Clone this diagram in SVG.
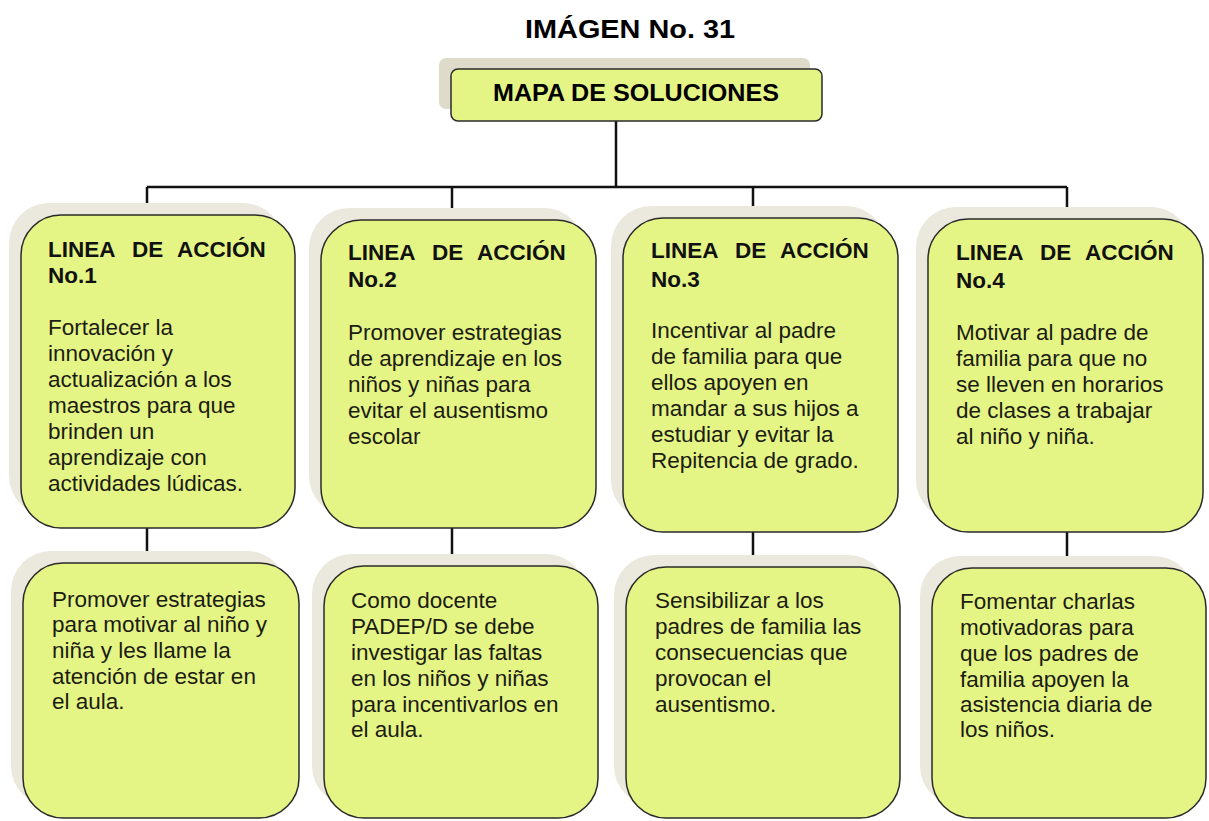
<svg xmlns="http://www.w3.org/2000/svg" width="1209" height="821" viewBox="0 0 1209 821">
<style>
.sh{fill:#ebe8dd}
.bx{fill:#e4f585;stroke:#2a2a2a;stroke-width:1.5}
.t{font-family:"Liberation Sans",Arial,sans-serif;font-size:22.5px;fill:#1c1c12}
.h{font-family:"Liberation Sans",Arial,sans-serif;font-size:22.5px;font-weight:bold;fill:#111}
.c{fill:none;stroke:#111;stroke-width:2.5}
</style>
<rect width="1209" height="821" fill="#fff"/>
<text x="630" y="38" text-anchor="middle" font-family="Liberation Sans, Arial, sans-serif" font-weight="bold" font-size="26" textLength="210" lengthAdjust="spacingAndGlyphs" fill="#000">IMÁGEN No. 31</text>

<g id="connectors">
<path class="c" d="M616 121V187M147 187H1067M147 187V215M452 187V220M753 187V218M1067 187V219"/>
<path class="c" d="M147 528V563M452 528V566M753 532V567M1067 532V568"/>
</g>

<g id="root">
<rect x="439" y="58" width="371" height="51" rx="7" fill="#dfdbca"/>
<rect x="451" y="69" width="371" height="52" rx="7" class="bx"/>
<text x="493" y="101" font-family="Liberation Sans, Arial, sans-serif" font-weight="bold" font-size="23" textLength="286" lengthAdjust="spacingAndGlyphs" fill="#000">MAPA DE SOLUCIONES</text>
</g>

<g id="n1">
<rect x="9" y="203" width="274" height="313" rx="40" class="sh"/>
<rect x="21" y="215" width="274" height="313" rx="40" class="bx"/>
<text class="h" y="257"><tspan x="48">LINEA</tspan><tspan x="132">DE</tspan><tspan x="177">ACCIÓN</tspan></text>
<text class="h" x="48" y="283">No.1</text>
<text class="t"><tspan x="48" y="335">Fortalecer la</tspan><tspan x="48" y="361">innovación y</tspan><tspan x="48" y="387">actualización a los</tspan><tspan x="48" y="413">maestros para que</tspan><tspan x="48" y="439">brinden un</tspan><tspan x="48" y="465">aprendizaje con</tspan><tspan x="48" y="491">actividades lúdicas.</tspan></text>
</g>

<g id="n2">
<rect x="309" y="208" width="275" height="308" rx="40" class="sh"/>
<rect x="321" y="220" width="275" height="308" rx="40" class="bx"/>
<text class="h" y="260"><tspan x="348">LINEA</tspan><tspan x="432">DE</tspan><tspan x="477">ACCIÓN</tspan></text>
<text class="h" x="348" y="287">No.2</text>
<text class="t"><tspan x="348" y="340">Promover estrategias</tspan><tspan x="348" y="366">de aprendizaje en los</tspan><tspan x="348" y="392">niños y niñas para</tspan><tspan x="348" y="418">evitar el ausentismo</tspan><tspan x="348" y="444">escolar</tspan></text>
</g>

<g id="n3">
<rect x="611" y="206" width="275" height="314" rx="40" class="sh"/>
<rect x="623" y="218" width="275" height="314" rx="40" class="bx"/>
<text class="h" y="258"><tspan x="651">LINEA</tspan><tspan x="735">DE</tspan><tspan x="780">ACCIÓN</tspan></text>
<text class="h" x="651" y="287">No.3</text>
<text class="t"><tspan x="651" y="338">Incentivar al padre</tspan><tspan x="651" y="364">de familia para que</tspan><tspan x="651" y="390">ellos apoyen en</tspan><tspan x="651" y="416">mandar a sus hijos a</tspan><tspan x="651" y="442">estudiar y evitar la</tspan><tspan x="651" y="468">Repitencia de grado.</tspan></text>
</g>

<g id="n4">
<rect x="916" y="207" width="275" height="313" rx="40" class="sh"/>
<rect x="928" y="219" width="275" height="313" rx="40" class="bx"/>
<text class="h" y="260"><tspan x="956">LINEA</tspan><tspan x="1040">DE</tspan><tspan x="1085">ACCIÓN</tspan></text>
<text class="h" x="956" y="288">No.4</text>
<text class="t"><tspan x="956" y="340">Motivar al padre de</tspan><tspan x="956" y="366">familia para que no</tspan><tspan x="956" y="392">se lleven en horarios</tspan><tspan x="956" y="418">de clases a trabajar</tspan><tspan x="956" y="444">al niño y niña.</tspan></text>
</g>

<g id="n5">
<rect x="11" y="551" width="276" height="255" rx="40" class="sh"/>
<rect x="23" y="563" width="276" height="255" rx="40" class="bx"/>
<text class="t"><tspan x="52" y="607">Promover estrategias</tspan><tspan x="52" y="632">para motivar al niño y</tspan><tspan x="52" y="658">niña y les llame la</tspan><tspan x="52" y="684">atención de estar en</tspan><tspan x="52" y="709">el aula.</tspan></text>
</g>

<g id="n6">
<rect x="312" y="554" width="274" height="252" rx="40" class="sh"/>
<rect x="324" y="566" width="274" height="252" rx="40" class="bx"/>
<text class="t"><tspan x="351" y="608">Como docente</tspan><tspan x="351" y="634">PADEP/D se debe</tspan><tspan x="351" y="660">investigar las faltas</tspan><tspan x="351" y="686">en los niños y niñas</tspan><tspan x="351" y="712">para incentivarlos en</tspan><tspan x="351" y="737">el aula.</tspan></text>
</g>

<g id="n7">
<rect x="614" y="555" width="274" height="251" rx="40" class="sh"/>
<rect x="626" y="567" width="274" height="251" rx="40" class="bx"/>
<text class="t"><tspan x="655" y="608">Sensibilizar a los</tspan><tspan x="655" y="634">padres de familia las</tspan><tspan x="655" y="660">consecuencias que</tspan><tspan x="655" y="686">provocan el</tspan><tspan x="655" y="712">ausentismo.</tspan></text>
</g>

<g id="n8">
<rect x="920" y="556" width="274" height="250" rx="40" class="sh"/>
<rect x="932" y="568" width="274" height="250" rx="40" class="bx"/>
<text class="t"><tspan x="960" y="609">Fomentar charlas</tspan><tspan x="960" y="635">motivadoras para</tspan><tspan x="960" y="661">que los padres de</tspan><tspan x="960" y="687">familia apoyen la</tspan><tspan x="960" y="712">asistencia diaria de</tspan><tspan x="960" y="737">los niños.</tspan></text>
</g>
</svg>
